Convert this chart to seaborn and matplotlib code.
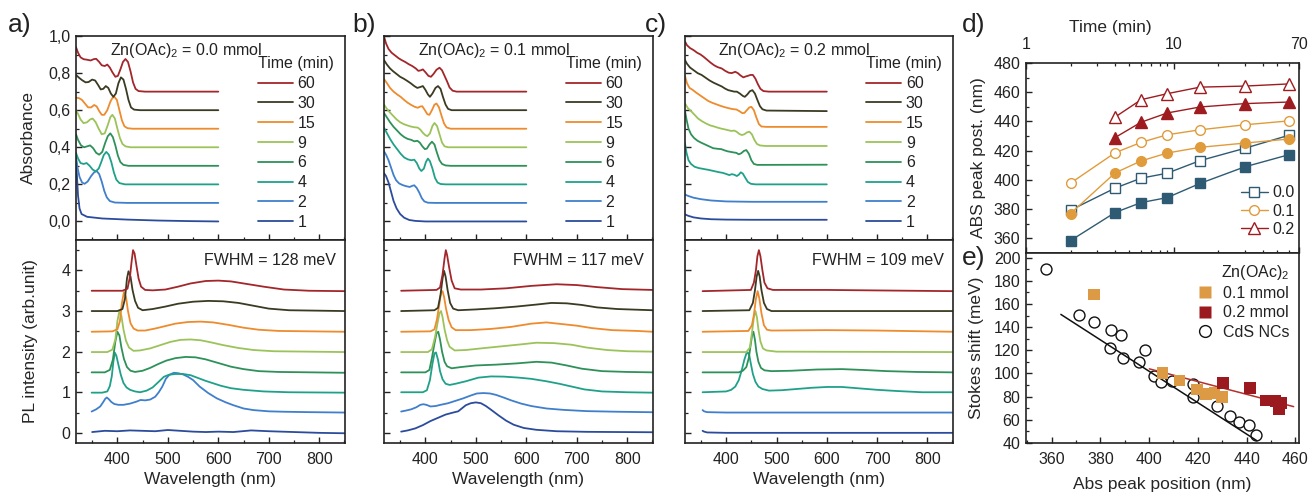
import numpy as np
import matplotlib
matplotlib.use("Agg")
import matplotlib.pyplot as plt
from matplotlib.lines import Line2D
from matplotlib.ticker import MultipleLocator, FixedLocator, NullFormatter, FuncFormatter
import seaborn as sns

# ---- time series colours -------------------------------------------------
TIMES = [1, 2, 4, 6, 9, 15, 30, 60]
TIME_COLORS = {1: "#2b4c9c", 2: "#3f7fcc", 4: "#1fa189", 6: "#2e9159",
               9: "#9cc35a", 15: "#ee8b2d", 30: "#3b3a22", 60: "#a3262a"}

# ---- absorbance spectra (wavelength nm, absorbance) ------------------------
ABS_A = {
    1: [(318, 0.34), (320, 0.24), (322, 0.14), (325, 0.07), (329, 0.04), (340, 0.025), (370, 0.016),
        (420, 0.01), (480, 0.005), (540, 0.002), (600, 0.0)],
    2: [(318, 0.35), (321, 0.29), (325, 0.24), (330, 0.21), (335, 0.203), (341, 0.215), (348, 0.245),
        (354, 0.265), (359, 0.272), (364, 0.255), (369, 0.215), (374, 0.165), (379, 0.13), (385, 0.11),
        (395, 0.102), (420, 0.1), (600, 0.1)],
    4: [(318, 0.37), (322, 0.34), (327, 0.315), (333, 0.31), (339, 0.315), (345, 0.3), (351, 0.28),
        (357, 0.27), (363, 0.285), (368, 0.32), (373, 0.358), (378, 0.375), (383, 0.36), (388, 0.32),
        (393, 0.265), (398, 0.225), (404, 0.207), (415, 0.2), (600, 0.2)],
    6: [(318, 0.47), (322, 0.44), (328, 0.41), (334, 0.4), (340, 0.405), (346, 0.41), (352, 0.395),
        (358, 0.37), (364, 0.36), (370, 0.375), (376, 0.425), (381, 0.46), (386, 0.475), (391, 0.455),
        (396, 0.41), (401, 0.355), (406, 0.32), (412, 0.305), (422, 0.3), (600, 0.3)],
    9: [(318, 0.6), (322, 0.58), (327, 0.55), (333, 0.53), (340, 0.535), (346, 0.55), (351, 0.555),
        (357, 0.535), (363, 0.5), (369, 0.47), (375, 0.475), (381, 0.52), (386, 0.562), (390, 0.575),
        (395, 0.555), (400, 0.5), (405, 0.45), (410, 0.418), (416, 0.405), (426, 0.4), (600, 0.4)],
    15: [(318, 0.667), (324, 0.665), (330, 0.655), (336, 0.635), (342, 0.615), (348, 0.615), (354, 0.628),
         (359, 0.62), (364, 0.595), (369, 0.575), (374, 0.575), (380, 0.6), (386, 0.645), (390, 0.665),
         (394, 0.672), (399, 0.655), (404, 0.6), (409, 0.545), (414, 0.513), (420, 0.503), (430, 0.5),
         (600, 0.5)],
    30: [(318, 0.79), (324, 0.775), (330, 0.762), (337, 0.75), (343, 0.752), (350, 0.765), (356, 0.76),
         (362, 0.735), (367, 0.712), (372, 0.715), (377, 0.73), (382, 0.72), (387, 0.69), (392, 0.672),
         (397, 0.69), (402, 0.745), (407, 0.777), (412, 0.765), (417, 0.715), (422, 0.655), (427, 0.615),
         (433, 0.603), (445, 0.6), (600, 0.6)],
    60: [(318, 0.94), (322, 0.91), (327, 0.885), (333, 0.875), (340, 0.872), (347, 0.868), (353, 0.875),
         (358, 0.877), (364, 0.86), (369, 0.842), (375, 0.838), (380, 0.846), (385, 0.83), (390, 0.805),
         (396, 0.78), (401, 0.785), (406, 0.82), (411, 0.86), (416, 0.876), (421, 0.86), (426, 0.81),
         (431, 0.75), (436, 0.715), (442, 0.703), (455, 0.7), (600, 0.7)],
}

ABS_B = {
    1: [(318, 0.26), (322, 0.245), (327, 0.21), (332, 0.16), (337, 0.11), (343, 0.07), (350, 0.04),
        (358, 0.02), (368, 0.008), (380, 0.003), (400, 0.0), (600, 0.0)],
    2: [(318, 0.378), (322, 0.36), (327, 0.33), (332, 0.29), (337, 0.25), (342, 0.222), (348, 0.205),
        (355, 0.196), (362, 0.19), (369, 0.186), (374, 0.192), (378, 0.195), (383, 0.18), (388, 0.155),
        (393, 0.125), (398, 0.108), (405, 0.101), (420, 0.1), (600, 0.1)],
    4: [(318, 0.505), (324, 0.475), (330, 0.445), (337, 0.415), (344, 0.39), (351, 0.365), (358, 0.345),
        (365, 0.335), (372, 0.33), (378, 0.333), (383, 0.315), (388, 0.285), (392, 0.272), (397, 0.285),
        (401, 0.32), (405, 0.339), (409, 0.325), (414, 0.285), (419, 0.235), (424, 0.21), (430, 0.202),
        (440, 0.2), (600, 0.2)],
    6: [(318, 0.585), (324, 0.56), (330, 0.535), (337, 0.51), (344, 0.49), (351, 0.47), (358, 0.455),
        (365, 0.445), (372, 0.44), (378, 0.432), (384, 0.435), (389, 0.425), (394, 0.405), (399, 0.39),
        (403, 0.393), (408, 0.415), (413, 0.43), (418, 0.415), (423, 0.37), (428, 0.33), (433, 0.31),
        (440, 0.302), (450, 0.3), (600, 0.3)],
    9: [(318, 0.63), (323, 0.61), (329, 0.59), (336, 0.57), (343, 0.55), (350, 0.535), (357, 0.525),
        (364, 0.518), (371, 0.512), (378, 0.508), (385, 0.506), (390, 0.495), (395, 0.478), (400, 0.465),
        (404, 0.46), (409, 0.475), (414, 0.515), (418, 0.531), (423, 0.515), (428, 0.47), (433, 0.425),
        (438, 0.405), (445, 0.4), (600, 0.4)],
    15: [(318, 0.768), (324, 0.745), (330, 0.72), (337, 0.7), (344, 0.685), (351, 0.672), (358, 0.655),
         (365, 0.64), (372, 0.628), (379, 0.618), (385, 0.613), (390, 0.62), (394, 0.621), (399, 0.6),
         (404, 0.578), (408, 0.575), (413, 0.6), (418, 0.63), (422, 0.636), (427, 0.615), (432, 0.57),
         (437, 0.528), (442, 0.507), (450, 0.5), (600, 0.5)],
    30: [(318, 0.87), (324, 0.845), (330, 0.825), (336, 0.81), (343, 0.795), (350, 0.78), (357, 0.77),
         (364, 0.758), (371, 0.745), (378, 0.73), (384, 0.72), (390, 0.725), (395, 0.73), (400, 0.71),
         (405, 0.685), (409, 0.672), (414, 0.69), (420, 0.72), (425, 0.73), (430, 0.715), (435, 0.67),
         (440, 0.63), (445, 0.607), (452, 0.6), (600, 0.6)],
    60: [(318, 0.998), (322, 0.96), (327, 0.93), (333, 0.91), (340, 0.895), (347, 0.88), (353, 0.87),
         (360, 0.86), (367, 0.848), (374, 0.838), (381, 0.825), (386, 0.812), (391, 0.815), (395, 0.82),
         (400, 0.805), (406, 0.785), (411, 0.78), (416, 0.795), (422, 0.818), (428, 0.829), (433, 0.815),
         (438, 0.785), (443, 0.755), (448, 0.722), (454, 0.705), (462, 0.7), (600, 0.7)],
}

ABS_C = {
    1: [(318, 0.038), (325, 0.03), (335, 0.022), (350, 0.016), (370, 0.012), (400, 0.01), (450, 0.009),
        (600, 0.009)],
    2: [(318, 0.145), (325, 0.137), (335, 0.128), (350, 0.12), (370, 0.113), (400, 0.108), (450, 0.106),
        (600, 0.106)],
    4: [(318, 0.42), (321, 0.37), (325, 0.33), (330, 0.31), (337, 0.295), (345, 0.288), (355, 0.283),
        (365, 0.278), (375, 0.272), (385, 0.266), (393, 0.262), (400, 0.256), (406, 0.25), (411, 0.255),
        (416, 0.252), (421, 0.245), (425, 0.252), (429, 0.265), (433, 0.258), (438, 0.235), (443, 0.213),
        (449, 0.203), (458, 0.2), (600, 0.2)],
    6: [(318, 0.595), (321, 0.55), (325, 0.5), (330, 0.47), (336, 0.45), (343, 0.435), (350, 0.425),
        (358, 0.415), (366, 0.405), (374, 0.395), (382, 0.392), (390, 0.39), (397, 0.383), (403, 0.378),
        (409, 0.375), (415, 0.372), (420, 0.37), (425, 0.362), (430, 0.368), (435, 0.38), (440, 0.385),
        (445, 0.365), (450, 0.33), (455, 0.31), (462, 0.305), (600, 0.306)],
    9: [(318, 0.636), (324, 0.61), (330, 0.595), (337, 0.575), (344, 0.555), (352, 0.54), (360, 0.528),
        (368, 0.518), (376, 0.512), (384, 0.505), (391, 0.5), (398, 0.496), (404, 0.492), (410, 0.488),
        (416, 0.49), (421, 0.483), (426, 0.472), (431, 0.466), (436, 0.47), (441, 0.48), (446, 0.484),
        (451, 0.47), (456, 0.44), (461, 0.418), (467, 0.41), (478, 0.407), (600, 0.407)],
    15: [(318, 0.784), (322, 0.745), (327, 0.72), (333, 0.71), (340, 0.695), (348, 0.68), (356, 0.665),
         (364, 0.65), (372, 0.64), (380, 0.632), (388, 0.624), (396, 0.617), (403, 0.612), (409, 0.608),
         (415, 0.605), (420, 0.604), (426, 0.595), (432, 0.584), (436, 0.585), (441, 0.6), (446, 0.615),
         (450, 0.618), (455, 0.6), (460, 0.56), (465, 0.525), (470, 0.512), (480, 0.51), (600, 0.51)],
    30: [(318, 0.87), (322, 0.85), (328, 0.83), (335, 0.816), (343, 0.8), (351, 0.79), (359, 0.775),
         (367, 0.76), (375, 0.748), (383, 0.738), (391, 0.728), (398, 0.716), (404, 0.708), (410, 0.704),
         (416, 0.7), (421, 0.7), (427, 0.69), (433, 0.677), (437, 0.672), (442, 0.685), (447, 0.702),
         (452, 0.708), (457, 0.69), (462, 0.655), (467, 0.622), (472, 0.605), (480, 0.598), (600, 0.595)],
    60: [(318, 0.97), (322, 0.95), (328, 0.935), (335, 0.924), (342, 0.91), (349, 0.9), (355, 0.888),
         (362, 0.872), (369, 0.856), (376, 0.842), (383, 0.832), (391, 0.825), (398, 0.812), (405, 0.802),
         (411, 0.8), (418, 0.807), (423, 0.8), (428, 0.788), (434, 0.777), (439, 0.782), (444, 0.786),
         (448, 0.79), (453, 0.79), (458, 0.77), (463, 0.74), (468, 0.715), (474, 0.703), (485, 0.7),
         (600, 0.7)],
}

# ---- PL spectra (wavelength nm, offset intensity) --------------------------
PL_A = {
    1: [(350, 0.02), (375, 0.05), (400, 0.04), (425, 0.06), (450, 0.05), (475, 0.04), (500, 0.07),
        (525, 0.05), (550, 0.03), (575, 0.02), (600, 0.03), (630, 0.02), (665, 0.06), (700, 0.04),
        (750, 0.02), (800, 0.0), (850, -0.01)],
    2: [(349, 0.525), (358, 0.58), (366, 0.65), (372, 0.76), (376, 0.84), (379, 0.87), (383, 0.83),
        (388, 0.76), (394, 0.71), (402, 0.69), (412, 0.69), (425, 0.72), (438, 0.77), (446, 0.81),
        (455, 0.8), (465, 0.82), (475, 0.89), (482, 1.0), (489, 1.14), (496, 1.33), (503, 1.43),
        (512, 1.48), (520, 1.47), (530, 1.44), (540, 1.38), (550, 1.3), (563, 1.14), (580, 0.98),
        (597, 0.85), (615, 0.75), (630, 0.68), (650, 0.6), (670, 0.56), (700, 0.53), (730, 0.52),
        (780, 0.51), (850, 0.5)],
    4: [(349, 0.99), (370, 0.99), (380, 1.02), (385, 1.15), (389, 1.4), (392, 1.75), (395, 1.975),
        (398, 1.9), (402, 1.68), (407, 1.42), (412, 1.23), (418, 1.12), (425, 1.06), (435, 1.02),
        (445, 1.0), (458, 1.04), (470, 1.12), (482, 1.26), (492, 1.38), (502, 1.43), (515, 1.45),
        (530, 1.45), (545, 1.42), (560, 1.35), (575, 1.28), (590, 1.22), (605, 1.16), (625, 1.1),
        (650, 1.06), (690, 1.02), (740, 1.0), (850, 0.99)],
    6: [(349, 1.49), (375, 1.49), (385, 1.55), (391, 1.8), (396, 2.25), (400, 2.49), (404, 2.4),
        (408, 2.1), (413, 1.82), (419, 1.62), (426, 1.53), (435, 1.5), (450, 1.53), (465, 1.6),
        (480, 1.69), (497, 1.78), (515, 1.84), (535, 1.87), (555, 1.86), (575, 1.81), (600, 1.72),
        (625, 1.63), (650, 1.57), (680, 1.52), (720, 1.5), (850, 1.48)],
    9: [(349, 1.99), (380, 1.99), (390, 2.05), (396, 2.3), (400, 2.75), (404, 3.0), (408, 2.88),
        (412, 2.55), (417, 2.27), (423, 2.1), (432, 2.02), (445, 2.03), (465, 2.08), (485, 2.16),
        (505, 2.24), (525, 2.29), (545, 2.3), (565, 2.28), (585, 2.23), (610, 2.16), (640, 2.09),
        (670, 2.04), (710, 2.01), (850, 1.99)],
    15: [(349, 2.49), (390, 2.5), (400, 2.55), (405, 2.75), (409, 3.2), (413, 3.47), (417, 3.35),
         (421, 3.0), (426, 2.7), (432, 2.57), (440, 2.52), (455, 2.52), (475, 2.57), (495, 2.63),
         (515, 2.69), (540, 2.73), (565, 2.74), (590, 2.72), (620, 2.66), (650, 2.59), (680, 2.54),
         (720, 2.51), (850, 2.49)],
    30: [(349, 3.0), (400, 3.0), (410, 3.05), (415, 3.3), (419, 3.8), (422, 3.98), (426, 3.85),
         (430, 3.52), (435, 3.25), (441, 3.08), (450, 3.02), (470, 3.05), (495, 3.11), (520, 3.18),
         (550, 3.23), (580, 3.25), (610, 3.24), (640, 3.2), (670, 3.13), (700, 3.06), (740, 3.02),
         (850, 3.0)],
    60: [(349, 3.5), (410, 3.5), (420, 3.55), (425, 3.85), (428, 4.2), (431, 4.5), (434, 4.42),
         (438, 4.1), (442, 3.8), (447, 3.6), (455, 3.52), (470, 3.51), (495, 3.53), (520, 3.6),
         (545, 3.68), (575, 3.74), (600, 3.75), (625, 3.73), (655, 3.67), (690, 3.6), (730, 3.53),
         (780, 3.5), (850, 3.49)],
}

PL_B = {
    1: [(352, 0.03), (365, 0.06), (380, 0.11), (395, 0.19), (410, 0.29), (425, 0.37), (440, 0.45),
        (455, 0.5), (465, 0.53), (472, 0.6), (480, 0.68), (490, 0.73), (500, 0.75), (510, 0.73),
        (520, 0.66), (530, 0.57), (545, 0.43), (560, 0.3), (575, 0.2), (595, 0.12), (620, 0.075),
        (660, 0.04), (720, 0.025), (850, 0.015)],
    2: [(352, 0.525), (362, 0.55), (372, 0.58), (382, 0.63), (390, 0.69), (396, 0.705), (402, 0.69),
        (410, 0.65), (420, 0.66), (430, 0.69), (445, 0.73), (460, 0.79), (475, 0.85), (490, 0.92),
        (502, 0.97), (515, 0.98), (528, 0.97), (540, 0.935), (555, 0.87), (570, 0.8), (590, 0.72),
        (610, 0.66), (640, 0.6), (675, 0.565), (720, 0.535), (780, 0.52), (850, 0.508)],
    4: [(352, 1.0), (395, 1.0), (403, 1.05), (409, 1.3), (414, 1.7), (418, 1.96), (421, 1.98),
        (425, 1.8), (429, 1.52), (434, 1.32), (440, 1.21), (448, 1.18), (460, 1.21), (480, 1.27),
        (505, 1.36), (530, 1.39), (555, 1.385), (585, 1.36), (610, 1.33), (640, 1.27), (665, 1.21),
        (690, 1.14), (715, 1.07), (750, 1.02), (800, 1.0), (850, 0.99)],
    6: [(352, 1.49), (400, 1.49), (408, 1.55), (413, 1.85), (418, 2.2), (422, 2.45), (425.5, 2.49),
        (429, 2.3), (433, 2.0), (438, 1.75), (443, 1.64), (452, 1.59), (470, 1.62), (500, 1.66),
        (540, 1.68), (580, 1.71), (620, 1.75), (650, 1.73), (680, 1.66), (710, 1.58), (750, 1.52),
        (800, 1.5), (850, 1.49)],
    9: [(352, 1.99), (405, 1.99), (413, 2.06), (419, 2.35), (424, 2.7), (428, 2.95), (431, 3.0),
        (434, 2.85), (438, 2.55), (443, 2.28), (448, 2.12), (458, 2.03), (480, 2.04), (510, 2.08),
        (550, 2.13), (590, 2.18), (620, 2.22), (655, 2.21), (690, 2.17), (720, 2.1), (760, 2.04),
        (800, 2.01), (850, 2.0)],
    15: [(352, 2.49), (410, 2.5), (418, 2.55), (423, 2.8), (428, 3.2), (431, 3.45), (434, 3.49),
         (437, 3.35), (441, 3.05), (446, 2.78), (452, 2.6), (460, 2.53), (490, 2.53), (530, 2.56),
         (570, 2.61), (610, 2.69), (640, 2.72), (670, 2.68), (700, 2.64), (730, 2.58), (770, 2.53),
         (820, 2.51), (850, 2.49)],
    30: [(352, 3.0), (418, 3.02), (425, 3.08), (430, 3.4), (434, 3.8), (437, 3.99), (440, 3.85),
         (444, 3.52), (449, 3.2), (455, 3.06), (465, 3.02), (500, 3.04), (540, 3.07), (580, 3.11),
         (620, 3.16), (650, 3.2), (680, 3.19), (710, 3.15), (740, 3.09), (780, 3.05), (850, 3.02)],
    60: [(352, 3.5), (422, 3.52), (429, 3.58), (434, 3.9), (438, 4.3), (440.5, 4.5), (443, 4.38),
         (447, 4.08), (452, 3.75), (458, 3.56), (470, 3.53), (510, 3.53), (560, 3.56), (610, 3.62),
         (660, 3.66), (700, 3.64), (740, 3.59), (790, 3.54), (850, 3.52)],
}

PL_C = {
    1: [(353, 0.05), (356, 0.03), (362, 0.01), (400, 0.0), (600, 0.0), (850, 0.0)],
    2: [(353, 0.56), (356, 0.53), (362, 0.51), (400, 0.5), (600, 0.5), (850, 0.5)],
    4: [(353, 1.0), (400, 1.02), (410, 1.06), (418, 1.14), (425, 1.3), (431, 1.55), (436, 1.8),
        (440, 1.95), (443, 1.98), (446, 1.9), (449, 1.7), (453, 1.45), (458, 1.26), (464, 1.14),
        (472, 1.08), (485, 1.04), (510, 1.05), (540, 1.08), (570, 1.11), (600, 1.13), (630, 1.13),
        (660, 1.1), (700, 1.06), (740, 1.03), (790, 1.0), (850, 1.0)],
    6: [(353, 1.49), (425, 1.49), (433, 1.53), (440, 1.62), (445, 1.85), (449, 2.2), (452, 2.45),
        (454, 2.49), (457, 2.3), (460, 2.0), (464, 1.75), (469, 1.6), (476, 1.54), (490, 1.52),
        (530, 1.53), (580, 1.56), (630, 1.57), (670, 1.55), (720, 1.52), (780, 1.5), (850, 1.49)],
    9: [(353, 1.99), (440, 1.99), (447, 2.1), (451, 2.45), (455, 2.85), (458, 3.0), (461, 2.85),
        (464, 2.55), (468, 2.25), (473, 2.08), (480, 2.03), (500, 2.0), (850, 1.99)],
    15: [(353, 2.49), (444, 2.51), (451, 2.65), (455, 2.9), (459, 3.3), (462.5, 3.49), (466, 3.3),
         (470, 2.95), (475, 2.65), (481, 2.54), (490, 2.52), (600, 2.53), (700, 2.52), (850, 2.49)],
    30: [(353, 3.0), (446, 3.02), (453, 3.2), (457, 3.5), (460.5, 3.85), (463.5, 3.99), (466.5, 3.85),
         (470, 3.52), (475, 3.2), (481, 3.05), (490, 3.0), (850, 3.0)],
    60: [(353, 3.49), (449, 3.52), (455, 3.7), (459, 4.0), (462, 4.35), (465, 4.5), (468, 4.35),
         (472, 4.0), (476, 3.7), (482, 3.56), (493, 3.52), (600, 3.52), (850, 3.49)],
}

ZN_LABELS = ["0.0", "0.1", "0.2"]
FWHM_LABELS = ["128", "117", "109"]

# ---- panel d: peak positions vs time --------------------------------------
TIME_D = [2, 4, 6, 9, 15, 30, 60]
TIME_D_02 = [4, 6, 9, 15, 30, 60]
ABS_00 = [358.5, 377.7, 384.5, 387.9, 397.6, 408.9, 417.3]
PL_00 = [379.3, 394.4, 401.2, 404.6, 413.2, 421.6, 430.6]
ABS_01 = [377.0, 404.8, 413.0, 418.4, 422.3, 425.2, 428.0]
PL_01 = [397.8, 418.6, 425.7, 430.9, 434.3, 437.7, 440.4]
ABS_02 = [429.0, 439.5, 445.8, 449.9, 452.2, 453.3]
PL_02 = [443.0, 454.9, 459.0, 463.5, 464.2, 465.7]

# ---- panel e: Stokes shift --------------------------------------------------
CDS_X = [357.5, 371.4, 377.5, 384.5, 388.4, 384.1, 389.3, 395.9, 398.2, 401.9, 404.8, 409.6,
         418.2, 417.9, 427.7, 433.0, 436.8, 441.1, 444.0]
CDS_Y = [189.9, 150.4, 144.1, 137.2, 132.8, 121.9, 113.2, 109.5, 120.1, 97.4, 92.5, 93.6,
         90.5, 80.1, 71.7, 63.1, 58.5, 55.6, 46.9]
ZN01_X = [377.5, 405.5, 412.5, 419.6, 423.4, 426.8, 429.9]
ZN01_Y = [168.3, 100.5, 94.0, 86.1, 82.4, 83.3, 79.5]
ZN02_X = [430.3, 441.5, 447.7, 451.8, 454.2, 453.4]
ZN02_Y = [91.9, 87.3, 76.6, 76.0, 74.6, 69.4]
FIT_CDS_X = [363.8, 444.2]
FIT_CDS_Y = [151.0, 42.0]
FIT_ZN_X = [400.1, 459.3]
FIT_ZN_Y = [104.0, 71.4]

C00 = "#2f5a73"
C01 = "#e09c3c"
C02 = "#9e1c1f"

sns.set_style("ticks")
plt.rcParams["font.family"] = ["Liberation Sans", "DejaVu Sans"]
plt.rcParams["mathtext.fontset"] = "custom"
plt.rcParams["mathtext.rm"] = "Liberation Sans"
plt.rcParams["axes.edgecolor"] = "#222222"
plt.rcParams["axes.linewidth"] = 1.2
plt.rcParams["text.color"] = "#222222"
plt.rcParams["xtick.color"] = "#222222"
plt.rcParams["ytick.color"] = "#222222"

FS = 11.5
LFS = 12.5
fig = plt.figure(figsize=(13.12, 4.92), dpi=100)
W, H = 1312.0, 492.0


def add_axes(x0, y0, x1, y1):
    return fig.add_axes([x0 / W, 1 - y1 / H, (x1 - x0) / W, (y1 - y0) / H])


def tick_style(ax):
    ax.tick_params(which="both", direction="in", labelsize=FS, pad=4)
    ax.tick_params(axis="x", which="both", pad=6.5)
    ax.tick_params(which="major", length=4.5, width=1)
    ax.tick_params(which="minor", length=2.5, width=0.9)


def draw_spectra(ax, data):
    for t in TIMES:
        pts = np.array(data[t])
        sns.lineplot(x=pts[:, 0], y=pts[:, 1], ax=ax, color=TIME_COLORS[t], lw=1.3,
                     sort=False, estimator=None, legend=False)


panel_x = [(76, 345), (384, 653), (685, 953)]
abs_sets = [ABS_A, ABS_B, ABS_C]
pl_sets = [PL_A, PL_B, PL_C]
comma = FuncFormatter(lambda v, p: f"{v:.1f}".replace(".", ","))

for i, (x0, x1) in enumerate(panel_x):
    ax_t = add_axes(x0, 36, x1, 240)
    ax_b = add_axes(x0, 240, x1, 443)
    draw_spectra(ax_t, abs_sets[i])
    draw_spectra(ax_b, pl_sets[i])
    for ax in (ax_t, ax_b):
        ax.set_xlim(318, 851)
        ax.xaxis.set_major_locator(MultipleLocator(100))
        ax.xaxis.set_minor_locator(MultipleLocator(50))
        tick_style(ax)
        ax.set_xlabel("")
        ax.set_ylabel("")
    ax_t.set_ylim(-0.1, 1.0)
    ax_t.yaxis.set_major_locator(MultipleLocator(0.2))
    ax_t.yaxis.set_minor_locator(MultipleLocator(0.1))
    ax_t.tick_params(labelbottom=False)
    ax_b.set_ylim(-0.25, 4.75)
    ax_b.yaxis.set_major_locator(MultipleLocator(1))
    ax_b.yaxis.set_minor_locator(MultipleLocator(0.5))
    ax_b.set_xlabel("Wavelength (nm)", fontsize=LFS)
    ax_b.xaxis.set_label_coords(0.5, -0.142)
    if i == 0:
        ax_t.yaxis.set_major_formatter(comma)
        ax_t.set_ylabel("Absorbance", fontsize=LFS)
        ax_t.yaxis.set_label_coords(-0.15, 0.5)
        ax_b.set_ylabel("PL intensity (arb.unit)", fontsize=LFS)
        ax_b.yaxis.set_label_coords(-0.14, 0.5)
    else:
        ax_t.tick_params(labelleft=False)
        ax_b.tick_params(labelleft=False)

    ax_t.text(0.408, 0.927, r"Zn(OAc)$_\mathregular{2}$ = " + ZN_LABELS[i] + " mmol",
              transform=ax_t.transAxes, ha="center", va="center", fontsize=FS)
    ax_b.text(0.965, 0.9, f"FWHM = {FWHM_LABELS[i]} meV", transform=ax_b.transAxes,
              ha="right", va="center", fontsize=FS)

    handles = [Line2D([], [], color=TIME_COLORS[t], lw=1.3) for t in TIMES[::-1]]
    ax_t.legend(handles, [str(t) for t in TIMES[::-1]], title="Time (min)", loc="upper left",
                bbox_to_anchor=(0.675, 0.9), frameon=False, fontsize=FS, title_fontsize=FS,
                handlelength=2.2, handletextpad=0.3, labelspacing=0.3, borderpad=0,
                borderaxespad=0, alignment="left")

# ---- panel d -----------------------------------------------------------------
ax_d = add_axes(1026, 63, 1299, 253)
series_d = [
    (TIME_D, PL_00, "s", C00, False), (TIME_D, ABS_00, "s", C00, True),
    (TIME_D, PL_01, "o", C01, False), (TIME_D, ABS_01, "o", C01, True),
    (TIME_D_02, PL_02, "^", C02, False), (TIME_D_02, ABS_02, "^", C02, True),
]
for xs, ys, mk, col, filled in series_d:
    sns.lineplot(x=xs, y=ys, ax=ax_d, color=col, lw=1.0, marker=mk, ms=8 if mk == "^" else 7,
                 mfc=col if filled else "white", mec=col, mew=1.0, sort=False, estimator=None,
                 legend=False)
ax_d.set_xscale("log")
ax_d.set_xlim(1, 70)
ax_d.set_ylim(350, 480)
ax_d.xaxis.set_major_locator(FixedLocator([1, 10, 70]))
ax_d.xaxis.set_major_formatter(FuncFormatter(lambda v, p: f"{v:g}"))
ax_d.xaxis.set_minor_locator(FixedLocator([2, 3, 4, 5, 6, 7, 8, 9, 20, 30, 40, 50, 60]))
ax_d.xaxis.set_minor_formatter(NullFormatter())
ax_d.yaxis.set_major_locator(MultipleLocator(20))
ax_d.yaxis.set_minor_locator(MultipleLocator(10))
tick_style(ax_d)
ax_d.tick_params(axis="x", which="both", top=True, bottom=True, labeltop=True, labelbottom=False, pad=8)
ax_d.set_xlabel("Time (min)", fontsize=LFS)
ax_d.xaxis.set_label_position("top")
ax_d.xaxis.set_label_coords(0.31, 1.165)
ax_d.set_ylabel("ABS peak post. (nm)", fontsize=LFS)
ax_d.yaxis.set_label_coords(-0.145, 0.5)
d_handles = [Line2D([], [], color=c, lw=1.0, marker=m, ms=8 if m == "^" else 7, mfc="white", mec=c)
             for c, m in [(C00, "s"), (C01, "o"), (C02, "^")]]
ax_d.legend(d_handles, ZN_LABELS, loc="lower right", bbox_to_anchor=(0.985, 0.085), frameon=False,
            fontsize=FS, handlelength=1.7, handletextpad=0.3, labelspacing=0.2, borderpad=0,
            borderaxespad=0)

# ---- panel e -----------------------------------------------------------------
ax_e = add_axes(1026, 253, 1299, 443)
sns.scatterplot(x=CDS_X, y=CDS_Y, ax=ax_e, marker="o", s=62, color="white", edgecolor="#111111",
                linewidth=1.0, zorder=2, legend=False)
sns.lineplot(x=FIT_CDS_X, y=FIT_CDS_Y, ax=ax_e, color="#111111", lw=1.1, sort=False,
             estimator=None, legend=False, zorder=3)
sns.lineplot(x=FIT_ZN_X, y=FIT_ZN_Y, ax=ax_e, color="#b3302c", lw=1.1, sort=False,
             estimator=None, legend=False, zorder=3)
sns.scatterplot(x=ZN01_X, y=ZN01_Y, ax=ax_e, marker="s", s=70, color="#dc9a45", edgecolor="none",
                zorder=4, legend=False)
sns.scatterplot(x=ZN02_X, y=ZN02_Y, ax=ax_e, marker="s", s=70, color="#9b1a1f", edgecolor="none",
                zorder=4, legend=False)
ax_e.set_xlim(349.5, 461.5)
ax_e.set_ylim(40, 204)
ax_e.xaxis.set_major_locator(MultipleLocator(20))
ax_e.xaxis.set_minor_locator(MultipleLocator(10))
ax_e.yaxis.set_major_locator(MultipleLocator(20))
ax_e.yaxis.set_minor_locator(MultipleLocator(10))
tick_style(ax_e)
ax_e.set_xlabel("Abs peak position (nm)", fontsize=LFS)
ax_e.xaxis.set_label_coords(0.5, -0.18)
ax_e.set_ylabel("Stokes shift (meV)", fontsize=LFS)
ax_e.yaxis.set_label_coords(-0.155, 0.5)
e_handles = [Line2D([], [], ls="", marker="s", ms=9, color="#dc9a45", mec="none"),
             Line2D([], [], ls="", marker="s", ms=9, color="#9b1a1f", mec="none"),
             Line2D([], [], ls="", marker="o", ms=8.5, mfc="white", mec="#111111", mew=1.0)]
ax_e.legend(e_handles, ["0.1 mmol", "0.2 mmol", "CdS NCs"], title=r"Zn(OAc)$_\mathregular{2}$",
            loc="upper right", bbox_to_anchor=(0.965, 0.95), frameon=False, fontsize=FS,
            title_fontsize=FS, handlelength=1.0, handletextpad=0.6, labelspacing=0.28, borderpad=0,
            borderaxespad=0, alignment="right")

# ---- panel letters -------------------------------------------------------------
for lab, x, y in [("a)", 8, 25), ("b)", 352, 25), ("c)", 645, 25), ("d)", 962, 25), ("e)", 962, 258)]:
    fig.text(x / W, 1 - y / H, lab, fontsize=19, ha="left", va="center")

fig.savefig("out.png", dpi=100)
